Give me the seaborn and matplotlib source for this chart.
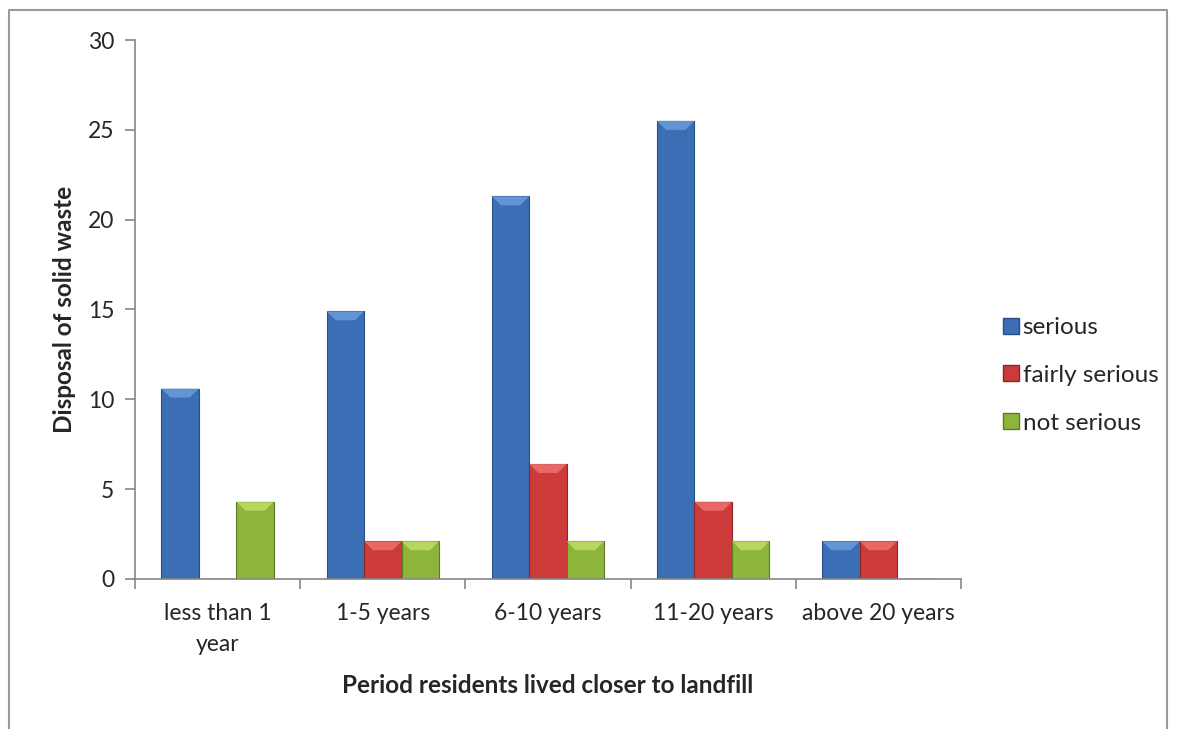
import numpy as np
import pandas as pd
import matplotlib
matplotlib.use('Agg')
import matplotlib.pyplot as plt
from matplotlib.lines import Line2D
from matplotlib.patches import Polygon
from matplotlib.ticker import FixedLocator
import seaborn as sns

# ============================================================
# DATA
# ============================================================
periods = ['less than 1\nyear', '1-5 years', '6-10 years', '11-20 years', 'above 20 years']
levels = ['serious', 'fairly serious', 'not serious']
serious = [10.6, 14.9, 21.3, 25.5, 2.1]
fairly_serious = [0.0, 2.1, 6.4, 4.3, 2.1]
not_serious = [4.3, 2.1, 2.1, 2.1, 0.0]

COLORS = ['#3B6EB5', '#CC3B39', '#8DB53C']
EDGES = ['#284F86', '#8A2726', '#5C7A22']
TOPS = ['#6E9FDC', '#EE7470', '#C4E066']

df = pd.DataFrame({
    'period': periods * 3,
    'level': [levels[0]] * 5 + [levels[1]] * 5 + [levels[2]] * 5,
    'value': serious + fairly_serious + not_serious,
})

# ============================================================
# STYLE
# ============================================================
sns.set_style('white')
plt.rcParams['font.family'] = ['Lato', 'DejaVu Sans']

fig = plt.figure(figsize=(11.77, 7.29), dpi=100)
ax = fig.add_axes([0.1147, 0.2058, 0.7018, 0.7393])

sns.barplot(data=df, x='period', y='value', hue='level', hue_order=levels,
            palette=COLORS, saturation=1, width=0.68, dodge=True,
            legend=False, ax=ax)

ax.set_xlim(-0.5, 4.5)
ax.set_ylim(0, 30)

# outline + light bevel on top of each bar (rough Excel look)
dx, dy = 0.055, 0.5
for cont, ec, tc in zip(ax.containers, EDGES, TOPS):
    for bar in cont:
        bar.set_edgecolor(ec)
        bar.set_linewidth(0.8)
        h = bar.get_height()
        if h <= 0:
            continue
        x0, w = bar.get_x(), bar.get_width()
        ax.add_patch(Polygon([(x0, h), (x0 + w, h), (x0 + w - dx, h - dy),
                              (x0 + dx, h - dy)], closed=True,
                             facecolor=tc, edgecolor='none', alpha=0.8))

ax.set_yticks(range(0, 31, 5))

# ticks between the categories
ax.xaxis.set_minor_locator(FixedLocator(np.arange(-0.5, 5.0, 1.0)))
ax.tick_params(axis='x', which='major', length=0, pad=17, labelsize=16.5)
ax.tick_params(axis='x', which='minor', length=7, width=1.2, color='#868686',
               direction='out', bottom=True)
ax.tick_params(axis='y', length=7, width=1.2, color='#868686', direction='out',
               left=True, pad=8, labelsize=16.5)
for lab in ax.get_xticklabels():
    lab.set_linespacing(1.6)

for side in ['top', 'right']:
    ax.spines[side].set_visible(False)
for side in ['left', 'bottom']:
    ax.spines[side].set_color('#868686')
    ax.spines[side].set_linewidth(1.2)

ax.set_xlabel('Period residents lived closer to landfill', fontsize=17.5,
              fontweight='bold', labelpad=14)
ax.set_ylabel('Disposal of solid waste', fontsize=17.5, fontweight='bold',
              labelpad=8.5)

handles = [Line2D([], [], marker='s', linestyle='', markersize=11,
                  markerfacecolor=c, markeredgecolor=e, label=l)
           for c, e, l in zip(COLORS, EDGES, levels)]
fig.legend(handles=handles, loc='center left', bbox_to_anchor=(0.8276, 0.485),
           frameon=False, fontsize=17.5, handletextpad=-0.1, labelspacing=1.1,
           handlelength=1.2)

# outer chart-area border
bx0, bx1, by1 = 9 / 1177, 1167 / 1177, 1 - 10 / 729
fig.add_artist(Line2D([bx0, bx0, bx1, bx1], [0, by1, by1, 0],
                      transform=fig.transFigure, color='#9A9A9A', lw=1.5))

fig.savefig('out.png', dpi=100)
